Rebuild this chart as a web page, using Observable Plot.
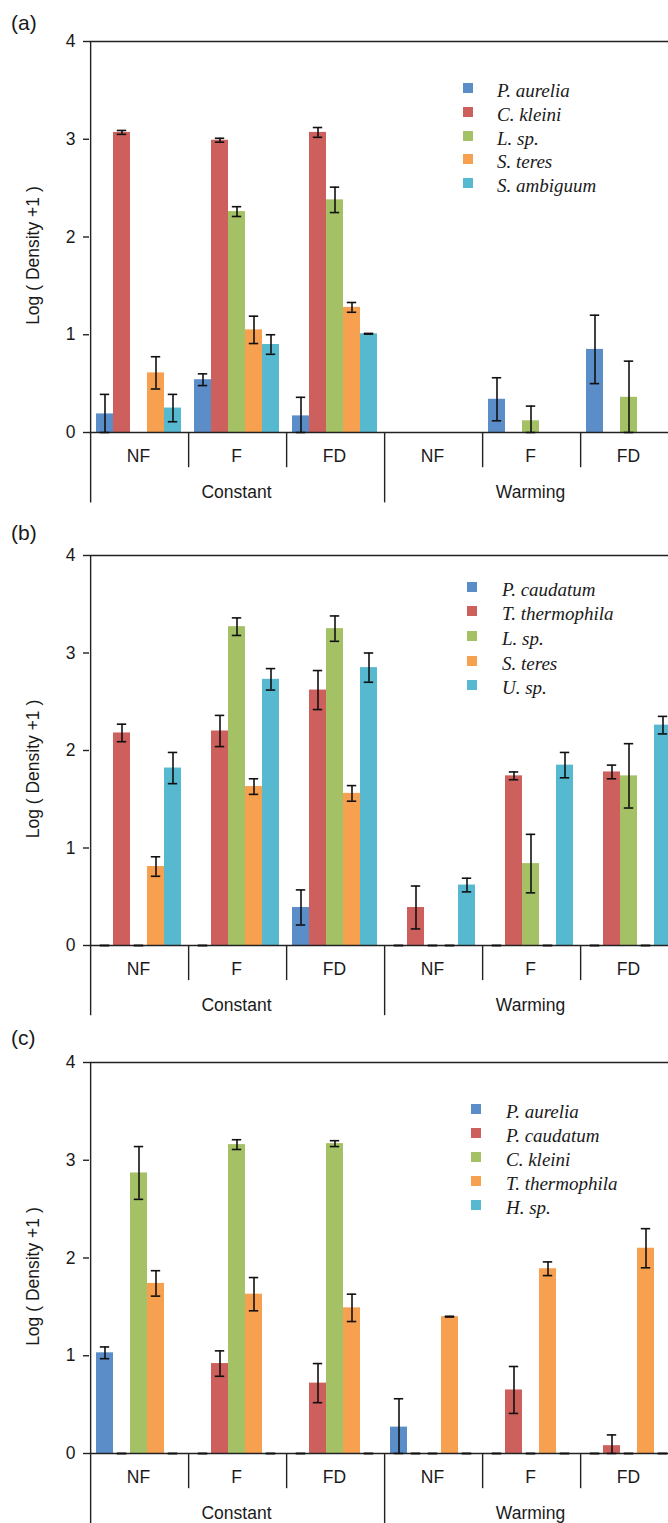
<!DOCTYPE html>
<html><head><meta charset="utf-8">
<script src="https://cdn.jsdelivr.net/npm/d3@7"></script>
<script src="https://cdn.jsdelivr.net/npm/@observablehq/plot@0.6"></script>
<style>
html,body{margin:0;padding:0;background:#fff;overflow:hidden;}
#root{position:relative;width:668px;height:1523px;overflow:hidden;background:#fff;}
.panel{position:absolute;left:0;width:690px;}
.panel svg{max-width:none !important;width:690px;}
.tag{position:absolute;left:11px;font:21px "Liberation Sans",Arial,sans-serif;color:#1a1a1a;line-height:24px;}
.legend{position:absolute;font:italic 19px "Liberation Serif","Times New Roman",serif;color:#1a1a1a;}
.legend .row{position:absolute;left:0;height:24px;line-height:24px;white-space:nowrap;}
.legend .sw{position:absolute;left:0;top:4px;width:10px;height:10px;}
</style></head><body><div id="root"></div>
<script>
// ---- categories ----
const temperatures = ["Constant", "Warming"];
const treatments = ["NF", "F", "FD"];
const yTicks = [0, 1, 2, 3, 4];
const colors = ["#5b8dc9", "#cd5f5c", "#a4c265", "#f7a04f", "#57b9cf"];

// ---- panel (a) ----
const seriesA = ["P. aurelia", "C. kleini", "L. sp.", "S. teres", "S. ambiguum"];
// groups: Constant NF, F, FD, Warming NF, F, FD
const valuesA = [
  [0.19, 0.54, 0.17, 0, 0.34, 0.85],
  [3.07, 2.99, 3.07, 0, 0, 0],
  [0, 2.26, 2.38, 0, 0.12, 0.36],
  [0.61, 1.05, 1.28, 0, 0, 0],
  [0.25, 0.90, 1.01, 0, 0, 0]
];
const errorsA = [
  [0.20, 0.06, 0.19, null, 0.22, 0.35],
  [0.02, 0.02, 0.05, null, null, null],
  [null, 0.05, 0.13, null, 0.15, 0.37],
  [0.165, 0.14, 0.05, null, null, null],
  [0.14, 0.10, 0.004, null, null, null]
];

// ---- panel (b) ----
const seriesB = ["P. caudatum", "T. thermophila", "L. sp.", "S. teres", "U. sp."];
const valuesB = [
  [0, 0, 0.39, 0, 0, 0],
  [2.18, 2.20, 2.62, 0.39, 1.74, 1.78],
  [0, 3.27, 3.25, 0, 0.84, 1.74],
  [0.81, 1.63, 1.56, 0, 0, 0],
  [1.82, 2.73, 2.85, 0.62, 1.85, 2.26]
];
const errorsB = [
  [0, 0, 0.18, 0, 0, 0],
  [0.09, 0.16, 0.20, 0.22, 0.04, 0.07],
  [0, 0.09, 0.13, 0, 0.30, 0.33],
  [0.10, 0.08, 0.08, 0, 0, 0],
  [0.16, 0.11, 0.15, 0.07, 0.13, 0.09]
];

// ---- panel (c) ----
const seriesC = ["P. aurelia", "P. caudatum", "C. kleini", "T. thermophila", "H. sp."];
const valuesC = [
  [1.03, 0, 0, 0.27, 0, 0],
  [0, 0.92, 0.72, 0, 0.65, 0.08],
  [2.87, 3.16, 3.17, 0, 0, 0],
  [1.74, 1.63, 1.49, 1.40, 1.89, 2.10],
  [0, 0, 0, 0, 0, 0]
];
const errorsC = [
  [0.06, 0, 0, 0.29, 0, 0],
  [0, 0.13, 0.20, 0, 0.24, 0.11],
  [0.27, 0.05, 0.03, 0, 0, 0],
  [0.13, 0.17, 0.14, 0.004, 0.07, 0.20],
  [0, 0, 0, 0, 0, 0]
];

// ---- layout ----
const groups = temperatures.flatMap(t => treatments.map(tr => t + " " + tr));
const W = 690, ML = 86, MR = 11, PAD_OUT = 0.32, Y_MIN = -0.72;
const facetW = (W - ML - MR) / groups.length;
const step = facetW / (5 + 2 * PAD_OUT);
const edgeDx = -(PAD_OUT * step + step / 2);
const FONT = '"Liberation Sans", Arial, sans-serif';
const INK = "#1a1a1a";
const FS = 17.5;

const root = document.getElementById("root");

function panel({tag, tagY, series, values, errors, top, y4, y0, legend}) {
  const unit = (y0 - y4) / 4;
  const yBottom = y0 - Y_MIN * unit;
  const H = Math.ceil(yBottom) + 6;
  const rows = [];
  series.forEach((s, si) => groups.forEach((g, gi) =>
    rows.push({series: s, group: g, value: values[si][gi], err: errors[si][gi]})));
  const eb = rows.filter(d => d.err != null)
    .map(d => ({...d, lo: Math.max(0, d.value - d.err), hi: d.value + d.err}));
  const first = series[0];
  const seps = groups.slice(1).map((g, i) => ({
    group: g,
    depth: g.split(" ")[0] !== groups[i].split(" ")[0] ? Y_MIN : -0.36
  }));
  const treatLabels = groups.map(g => ({group: g, label: g.split(" ")[1]}));
  const tempLabels = temperatures.map(t => ({group: t + " " + treatments[1], label: t}));

  const chart = Plot.plot({
    width: W, height: H,
    marginTop: y4, marginBottom: H - yBottom, marginLeft: ML, marginRight: MR,
    fx: {domain: groups, padding: 0, axis: null},
    x: {domain: series, paddingInner: 0, paddingOuter: PAD_OUT, axis: null},
    y: {domain: [Y_MIN, 4], range: [yBottom, y4], axis: null},
    color: {domain: series, range: colors},
    style: {fontFamily: FONT, fontSize: FS + "px", color: INK, background: "white", overflow: "visible", maxWidth: "none"},
    marks: [
      Plot.barY(rows, {fx: "group", x: "series", y: "value", fill: "series"}),
      Plot.ruleY([0], {stroke: "#222", strokeWidth: 1.4}),
      Plot.ruleY([4], {stroke: "#222", strokeWidth: 1.4}),
      Plot.ruleX(eb, {fx: "group", x: "series", y1: "lo", y2: "hi", stroke: "#111", strokeWidth: 1.6}),
      Plot.tickY(eb, {fx: "group", x: "series", y: "hi", inset: 3.8, stroke: "#111", strokeWidth: 1.6}),
      Plot.tickY(eb, {fx: "group", x: "series", y: "lo", inset: 3.8, stroke: "#111", strokeWidth: 1.6}),
      Plot.ruleX(seps, {fx: "group", x: () => first, dx: edgeDx, y1: 0, y2: "depth", stroke: "#222", strokeWidth: 1.4}),
      Plot.ruleX([{group: groups[0]}], {fx: "group", x: () => first, dx: edgeDx, y1: Y_MIN, y2: 4, stroke: "#222", strokeWidth: 1.4}),
      Plot.axisY({ticks: yTicks, tickFormat: d => String(d), tickSize: 6, tickPadding: 8, label: null,
        stroke: "#222", strokeWidth: 1.4, fill: INK, fontSize: FS}),
      Plot.text(treatLabels, {fx: "group", text: "label", y: -0.245, fill: INK, fontSize: FS}),
      Plot.text(tempLabels, {fx: "group", text: "label", y: -0.61, fill: INK, fontSize: FS}),
      Plot.text([{group: groups[0], label: "Log ( Density +1 )"}],
        {fx: "group", text: "label", frameAnchor: "left", textAnchor: "middle", y: 1.81, rotate: -90, dx: -56, fill: INK, fontSize: FS})
    ]
  });
  const wrap = document.createElement("div");
  wrap.className = "panel";
  wrap.style.top = top + "px";
  wrap.appendChild(chart);
  root.appendChild(wrap);

  const t = document.createElement("div");
  t.className = "tag";
  t.style.top = (tagY - 12) + "px";
  t.textContent = tag;
  root.appendChild(t);

  const lg = document.createElement("div");
  lg.className = "legend";
  lg.style.left = legend.x + "px";
  lg.style.top = "0px";
  series.forEach((s, i) => {
    const r = document.createElement("div");
    r.className = "row";
    r.style.top = (legend.y + i * legend.dy - 9) + "px";
    const sw = document.createElement("div");
    sw.className = "sw";
    sw.style.background = colors[i];
    const tx = document.createElement("span");
    tx.style.marginLeft = legend.tx + "px";
    tx.textContent = s;
    r.appendChild(sw); r.appendChild(tx);
    lg.appendChild(r);
  });
  root.appendChild(lg);
}

panel({tag: "(a)", tagY: 23, series: seriesA, values: valuesA, errors: errorsA,
  top: 0, y4: 41, y0: 432, legend: {x: 463, y: 88, dy: 23.8, tx: 34}});
panel({tag: "(b)", tagY: 533, series: seriesB, values: valuesB, errors: errorsB,
  top: 510, y4: 45, y0: 435, legend: {x: 467, y: 586.7, dy: 24.6, tx: 35}});
panel({tag: "(c)", tagY: 1037.5, series: seriesC, values: valuesC, errors: errorsC,
  top: 1020, y4: 42, y0: 433, legend: {x: 471, y: 1109.3, dy: 23.8, tx: 35}});
</script>
</body></html>
